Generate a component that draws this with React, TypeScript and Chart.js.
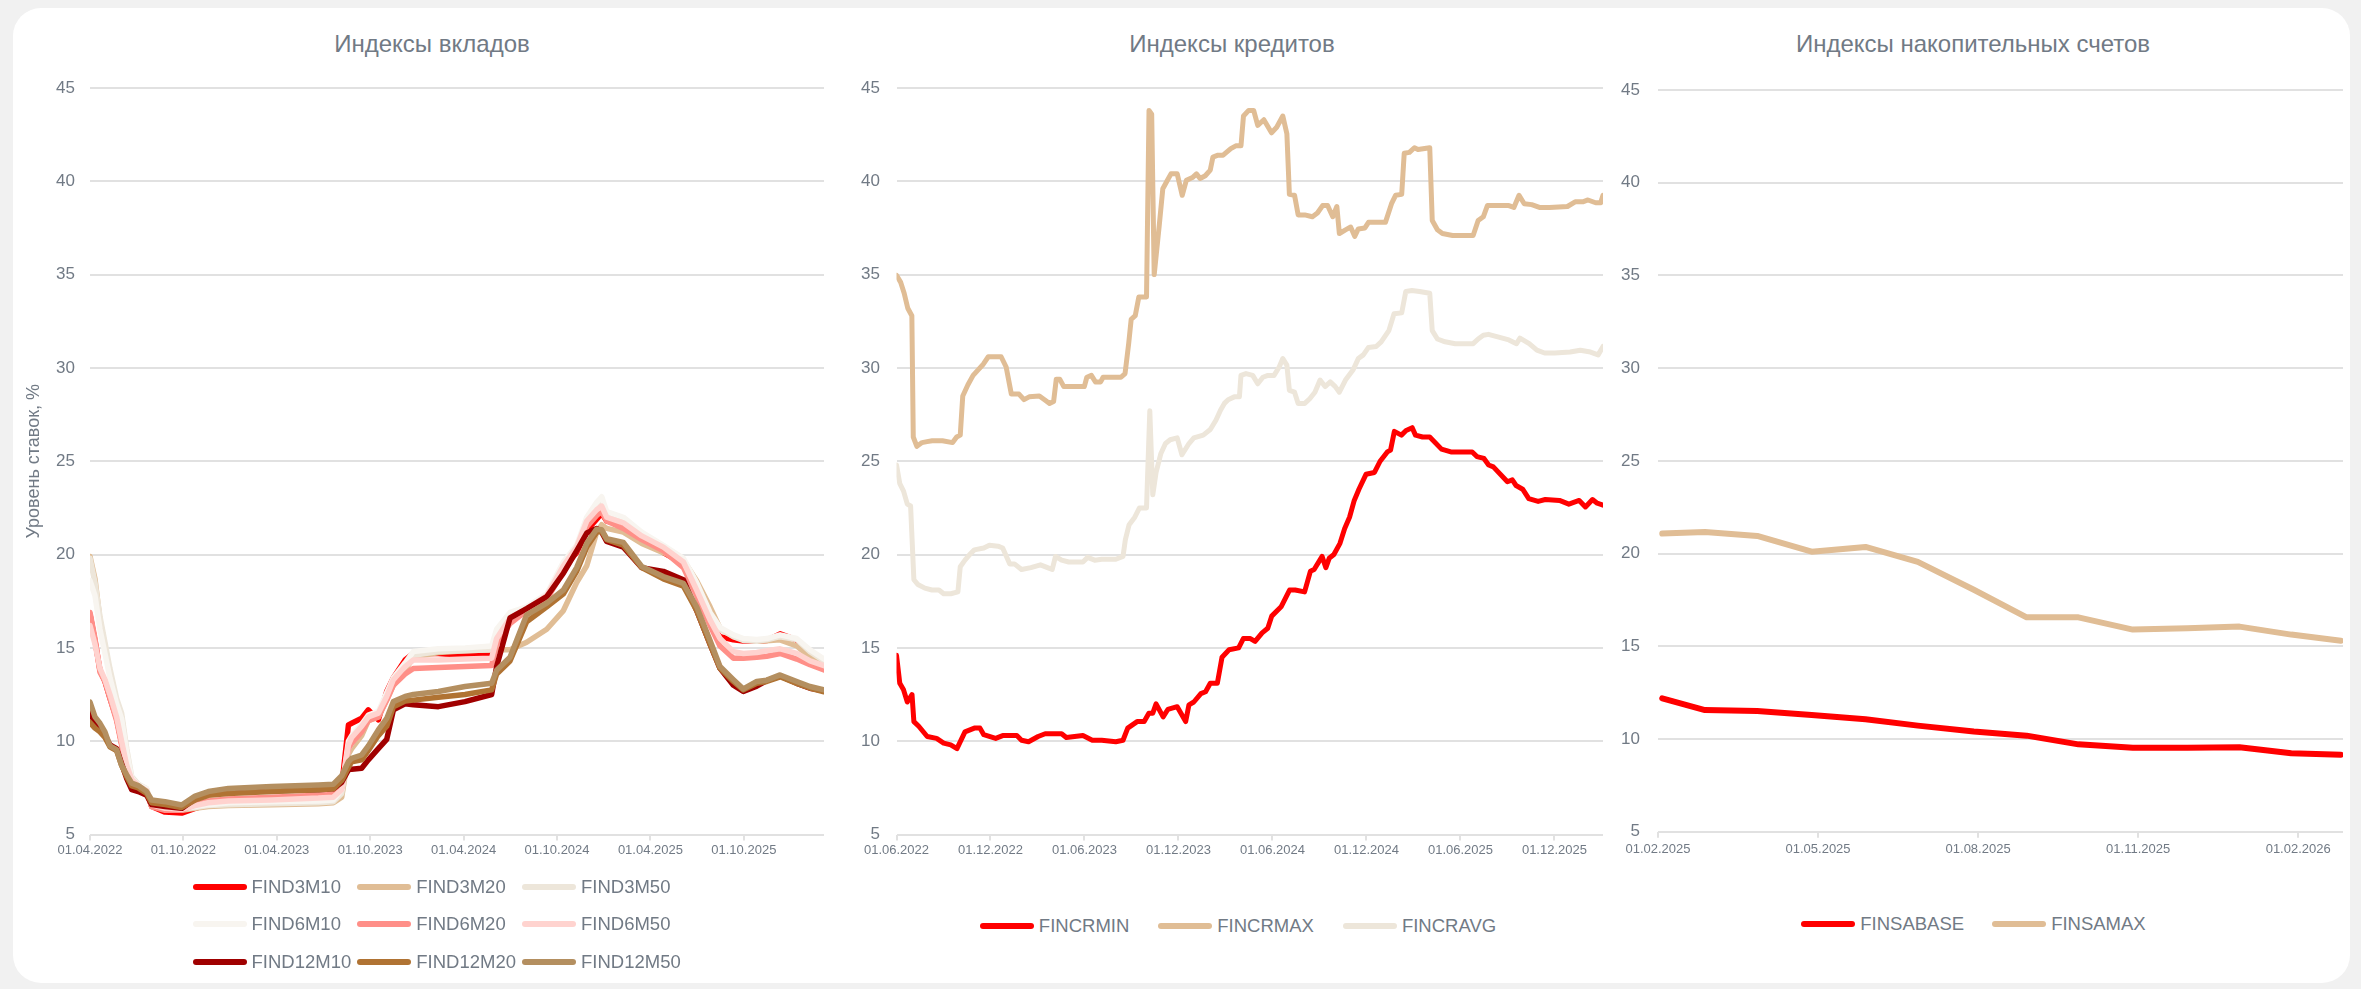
import React, { useEffect, useRef } from "react";
import { Chart, registerables } from "chart.js";

Chart.register(...registerables);

const FONT = "'Liberation Sans', Arial, Helvetica, sans-serif";
const TEXT = "#717a85";
const GRID = "#e1e1e1";

// ---------- Индексы вкладов (x = months since 01.04.2022) ----------
const DEP_TICKS = [0, 6, 12, 18, 24, 30, 36, 42];
const DEP_TICK_LABELS = ["01.04.2022", "01.10.2022", "01.04.2023", "01.10.2023", "01.04.2024", "01.10.2024", "01.04.2025", "01.10.2025"];
const DEP_MAX = 47.15;
const DEP_T = [0, 0.32, 0.64, 0.96, 1.28, 1.71, 2.03, 2.36, 2.68, 3.1, 3.64, 3.96, 4.82, 5.89, 6.75, 7.6, 8.89, 11.67, 14.67, 15.63, 16.17, 16.6, 16.81, 17.45, 17.88, 18.52, 19.06, 19.49, 20.24, 20.77, 22.38, 24.09, 25.8, 26.12, 26.98, 28.05, 29.34, 30.41, 31.26, 31.91, 32.55, 32.87, 33.19, 34.26, 35.44, 36.83, 38.12, 38.97, 39.83, 40.47, 41.33, 41.97, 42.83, 43.47, 44.33, 45.4, 46.25, 47.15];
const FIND3M10 = [16.8, 15.4, 13.8, 13.2, 12.3, 11.2, 9.9, 8.6, 7.85, 7.55, 7.3, 6.5, 6.2, 6.15, 6.4, 6.6, 6.75, 6.85, 6.95, 7.0, 7.6, 10.87, 10.96, 11.23, 11.68, 11.14, 12.66, 13.4, 14.35, 14.7, 14.7, 14.6, 14.6, 15.6, 16.8, 17.1, 17.8, 19.3, 20.1, 21.3, 21.9, 22.2, 21.8, 21.6, 21.0, 20.1, 19.5, 18.0, 16.3, 15.6, 15.43, 15.37, 15.35, 15.4, 15.75, 15.43, 14.6, 14.2];
const FIND3M20 = [19.9, 18.7, 16.5, 15.1, 13.6, 12.0, 11.3, 9.3, 7.95, 7.6, 7.4, 6.5, 6.35, 6.3, 6.4, 6.5, 6.55, 6.6, 6.65, 6.7, 7.0, 9.3, 9.6, 10.3, 11.1, 11.3, 12.2, 13.0, 13.8, 14.5, 14.75, 14.85, 14.9, 14.9, 14.9, 15.3, 16.0, 17.0, 18.5, 19.4, 21.2, 21.6, 21.4, 21.2, 20.6, 20.1, 19.7, 18.6, 17.2, 16.05, 15.6, 15.45, 15.35, 15.38, 15.43, 15.1, 14.5, 14.1];
const FIND3M50 = [19.8, 18.5, 16.7, 15.3, 13.9, 12.3, 11.5, 9.6, 8.1, 7.7, 7.45, 6.5, 6.4, 6.35, 6.45, 6.55, 6.6, 6.65, 6.7, 6.75, 7.2, 9.6, 9.9, 10.6, 11.2, 11.4, 12.4, 13.2, 14.0, 14.6, 14.8, 14.85, 14.9, 15.8, 16.5, 16.9, 17.6, 19.2, 20.3, 21.7, 22.5, 23.0, 22.1, 21.8, 21.0, 20.3, 19.6, 18.3, 16.8, 16.0, 15.6, 15.4, 15.35, 15.43, 15.6, 15.45, 14.8, 14.3];
const FIND6M10 = [18.6, 17.8, 16.0, 14.7, 13.4, 12.0, 11.2, 9.4, 8.0, 7.65, 7.45, 6.6, 6.5, 6.4, 6.5, 6.6, 6.7, 6.75, 6.8, 6.85, 7.4, 10.0, 10.3, 10.9, 11.4, 11.6, 12.6, 13.4, 14.2, 14.8, 14.95, 15.0, 15.1, 16.0, 16.9, 17.2, 17.9, 19.6, 20.5, 22.0, 22.8, 23.1, 22.3, 22.0, 21.2, 20.5, 19.8, 18.5, 16.9, 16.1, 15.7, 15.5, 15.45, 15.5, 15.7, 15.5, 14.9, 14.4];
const FIND6M20 = [16.9, 15.5, 13.7, 13.2, 12.3, 11.1, 9.8, 8.5, 7.9, 7.6, 7.3, 6.5, 6.3, 6.3, 6.6, 6.8, 6.9, 7.0, 7.1, 7.15, 7.5, 9.6, 9.9, 10.5, 11.1, 11.3, 12.2, 13.0, 13.6, 13.9, 13.95, 14.0, 14.05, 15.2, 16.3, 17.0, 17.6, 19.1, 20.2, 21.5, 22.1, 22.3, 21.8, 21.4, 20.8, 20.2, 19.3, 17.8, 16.2, 15.1, 14.45, 14.45, 14.5, 14.55, 14.7, 14.4, 14.1, 13.82];
const FIND6M50 = [16.2, 15.2, 13.9, 13.3, 12.5, 11.3, 10.0, 8.7, 7.95, 7.6, 7.35, 6.6, 6.4, 6.35, 6.55, 6.7, 6.8, 6.85, 6.95, 7.0, 7.4, 9.8, 10.2, 10.8, 11.3, 11.5, 12.4, 13.3, 14.0, 14.35, 14.35, 14.4, 14.45, 15.5, 16.6, 17.1, 17.8, 19.4, 20.4, 21.8, 22.4, 22.6, 22.0, 21.7, 21.0, 20.4, 19.6, 18.1, 16.5, 15.5, 14.8, 14.7, 14.75, 14.85, 14.95, 14.7, 14.3, 14.05];
const FIND12M10 = [11.5, 11.0, 10.8, 10.3, 9.8, 9.6, 8.8, 8.0, 7.4, 7.3, 7.1, 6.6, 6.5, 6.4, 6.9, 7.2, 7.3, 7.35, 7.4, 7.45, 7.8, 8.46, 8.5, 8.55, 9.0, 9.6, 10.1, 11.68, 12.0, 11.95, 11.85, 12.12, 12.5, 14.0, 16.6, 17.1, 17.75, 19.0, 20.2, 21.15, 21.4, 21.2, 20.7, 20.4, 19.3, 19.1, 18.65, 17.0, 15.2, 13.9, 13.0, 12.66, 12.95, 13.25, 13.5, 13.1, 12.84, 12.7];
const FIND12M20 = [11.0, 10.7, 10.5, 10.2, 9.7, 9.5, 8.7, 8.1, 7.6, 7.5, 7.2, 6.7, 6.6, 6.45, 6.85, 7.1, 7.2, 7.3, 7.4, 7.45, 7.9, 8.6, 8.9, 9.0, 9.5, 10.3, 10.8, 11.85, 12.15, 12.2, 12.35, 12.5, 12.75, 13.6, 14.3, 16.4, 17.2, 17.9, 19.1, 20.4, 21.2, 21.25, 20.8, 20.5, 19.3, 18.7, 18.3, 17.0, 15.2, 13.9, 13.2, 12.75, 13.1, 13.2, 13.45, 13.1, 12.85, 12.65];
const FIND12M50 = [12.1, 11.3, 10.96, 10.5, 9.75, 9.55, 8.7, 8.2, 7.75, 7.62, 7.3, 6.85, 6.76, 6.58, 7.06, 7.3, 7.47, 7.57, 7.65, 7.69, 8.15, 8.9, 9.08, 9.26, 9.75, 10.6, 11.22, 12.12, 12.4, 12.5, 12.66, 12.93, 13.1, 13.8, 14.5, 16.77, 17.4, 18.1, 19.3, 20.6, 21.36, 21.33, 20.85, 20.65, 19.36, 18.82, 18.46, 17.2, 15.4, 14.0, 13.3, 12.8, 13.2, 13.27, 13.55, 13.2, 12.93, 12.75];
const DEP_NAMES = ["FIND3M10", "FIND3M20", "FIND3M50", "FIND6M10", "FIND6M20", "FIND6M50", "FIND12M10", "FIND12M20", "FIND12M50"];
const DEP_COLORS = ["#ff0000", "#e0bd95", "#ede6da", "#f8f5f0", "#ff8f88", "#ffd3cf", "#a00000", "#b07333", "#b48f60"];
const DEP_SERIES = [FIND3M10, FIND3M20, FIND3M50, FIND6M10, FIND6M20, FIND6M50, FIND12M10, FIND12M20, FIND12M50];

// ---------- Индексы кредитов (x = months since 01.06.2022) ----------
const CR_TICKS = [0, 6, 12, 18, 24, 30, 36, 42];
const CR_TICK_LABELS = ["01.06.2022", "01.12.2022", "01.06.2023", "01.12.2023", "01.06.2024", "01.12.2024", "01.06.2025", "01.12.2025"];
const CR_MAX = 45.1;
const FINCRMIN_T = [0, 0.21, 0.45, 0.69, 0.99, 1.11, 1.42, 1.96, 2.56, 3.01, 3.46, 3.86, 4.37, 4.97, 5.33, 5.57, 6.33, 6.78, 7.68, 7.98, 8.43, 9.04, 9.49, 10.54, 10.84, 11.9, 12.5, 13.1, 14.0, 14.46, 14.76, 15.36, 15.81, 16.11, 16.36, 16.57, 17.02, 17.32, 17.92, 18.46, 18.67, 18.98, 19.43, 19.73, 20.03, 20.48, 20.78, 21.23, 21.84, 22.14, 22.59, 22.89, 23.34, 23.7, 23.95, 24.55, 25.09, 25.45, 26.05, 26.42, 26.66, 27.17, 27.41, 27.62, 27.92, 28.31, 28.61, 28.92, 29.22, 29.52, 29.97, 30.51, 30.87, 31.33, 31.54, 31.78, 32.23, 32.53, 32.92, 33.13, 33.58, 34.04, 34.79, 35.39, 36.75, 37.05, 37.5, 37.8, 38.1, 39.0, 39.31, 39.55, 39.97, 40.36, 40.96, 41.42, 42.32, 42.92, 43.58, 43.98, 44.43, 44.73, 45.1];
const FINCRMIN = [14.6, 13.1, 12.75, 12.1, 12.5, 11.05, 10.8, 10.25, 10.15, 9.9, 9.8, 9.6, 10.5, 10.7, 10.7, 10.35, 10.15, 10.3, 10.3, 10.05, 9.97, 10.25, 10.4, 10.4, 10.2, 10.3, 10.05, 10.05, 9.97, 10.05, 10.7, 11.05, 11.05, 11.5, 11.5, 12.0, 11.3, 11.7, 11.85, 11.05, 11.95, 12.1, 12.55, 12.65, 13.1, 13.1, 14.5, 14.9, 15.0, 15.5, 15.5, 15.35, 15.8, 16.05, 16.7, 17.2, 18.1, 18.1, 18.0, 19.1, 19.2, 19.9, 19.3, 19.8, 20.0, 20.6, 21.4, 22.0, 22.9, 23.5, 24.3, 24.4, 25.0, 25.5, 25.6, 26.6, 26.4, 26.65, 26.8, 26.4, 26.3, 26.3, 25.65, 25.5, 25.5, 25.25, 25.15, 24.8, 24.7, 23.9, 24.0, 23.7, 23.5, 23.0, 22.85, 22.95, 22.9, 22.7, 22.9, 22.55, 22.95, 22.75, 22.65];
const FINCRMAX_T = [0, 0.26, 0.49, 0.72, 0.98, 1.07, 1.3, 1.63, 1.95, 2.28, 2.93, 3.58, 3.84, 4.07, 4.23, 4.56, 4.89, 5.21, 5.54, 5.86, 6.19, 6.68, 7.0, 7.33, 7.82, 8.14, 8.47, 9.12, 9.45, 9.77, 10.03, 10.2, 10.42, 10.68, 11.4, 11.99, 12.15, 12.44, 12.7, 13.03, 13.19, 14.33, 14.59, 14.82, 14.98, 15.24, 15.47, 15.96, 16.12, 16.29, 16.45, 16.78, 17.0, 17.26, 17.52, 17.92, 18.24, 18.5, 18.89, 19.15, 19.38, 19.71, 20.03, 20.2, 20.52, 20.85, 21.34, 21.66, 21.99, 22.15, 22.48, 22.8, 23.06, 23.45, 23.94, 24.27, 24.66, 24.92, 25.08, 25.41, 25.64, 26.06, 26.55, 26.87, 27.2, 27.52, 27.85, 28.11, 28.27, 28.66, 28.99, 29.25, 29.48, 29.9, 30.13, 31.21, 31.6, 31.86, 32.25, 32.41, 32.74, 33.06, 33.29, 34.04, 34.2, 34.53, 34.85, 35.5, 36.81, 37.13, 37.46, 37.72, 38.44, 39.09, 39.41, 39.74, 40.07, 40.55, 41.04, 41.69, 42.83, 43.32, 43.81, 44.14, 44.63, 44.95, 45.1];
const FINCRMAX = [34.96, 34.6, 34.0, 33.2, 32.8, 26.3, 25.8, 26.0, 26.05, 26.1, 26.1, 26.0, 26.3, 26.4, 28.5, 29.1, 29.6, 29.9, 30.2, 30.6, 30.6, 30.6, 30.05, 28.6, 28.6, 28.3, 28.45, 28.5, 28.3, 28.1, 28.2, 29.4, 29.4, 29.0, 29.0, 29.0, 29.5, 29.6, 29.25, 29.25, 29.5, 29.5, 29.7, 31.3, 32.6, 32.8, 33.8, 33.8, 43.8, 43.6, 35.0, 37.7, 39.6, 40.0, 40.4, 40.4, 39.25, 40.05, 40.2, 40.4, 40.15, 40.3, 40.6, 41.3, 41.4, 41.4, 41.75, 41.9, 41.9, 43.5, 43.8, 43.8, 43.0, 43.3, 42.6, 42.9, 43.5, 42.55, 39.3, 39.25, 38.2, 38.2, 38.1, 38.3, 38.7, 38.7, 38.1, 38.65, 37.2, 37.4, 37.55, 37.05, 37.45, 37.5, 37.8, 37.8, 38.8, 39.25, 39.3, 41.5, 41.55, 41.8, 41.7, 41.8, 37.9, 37.4, 37.2, 37.1, 37.1, 37.9, 38.1, 38.7, 38.7, 38.7, 38.6, 39.25, 38.8, 38.75, 38.6, 38.6, 38.65, 38.9, 38.9, 39.0, 38.85, 38.85, 39.25];
const FINCRAVG_T = [0, 0.21, 0.45, 0.69, 0.9, 1.11, 1.36, 1.81, 2.26, 2.71, 3.01, 3.46, 3.92, 4.07, 4.37, 4.67, 4.97, 5.57, 5.93, 6.48, 6.78, 7.23, 7.53, 7.98, 8.58, 9.19, 9.64, 9.94, 10.15, 10.54, 10.99, 11.9, 12.2, 12.65, 13.1, 14.0, 14.46, 14.61, 14.85, 15.21, 15.51, 15.96, 16.17, 16.36, 16.57, 16.87, 17.17, 17.47, 17.92, 18.22, 18.67, 18.98, 19.58, 20.03, 20.39, 20.69, 20.93, 21.17, 21.56, 21.89, 21.99, 22.31, 22.74, 23.06, 23.39, 23.71, 24.1, 24.43, 24.66, 24.92, 25.08, 25.41, 25.64, 26.06, 26.38, 26.71, 27.04, 27.36, 27.69, 28.01, 28.27, 28.66, 29.15, 29.48, 29.8, 30.13, 30.62, 30.94, 31.43, 31.76, 32.25, 32.51, 32.9, 33.39, 34.04, 34.2, 34.53, 35.02, 35.67, 36.81, 37.13, 37.46, 37.79, 38.44, 39.09, 39.58, 39.8, 40.39, 40.88, 41.37, 42.02, 43.0, 43.65, 44.3, 44.79, 45.1];
const FINCRAVG = [24.8, 23.8, 23.4, 22.7, 22.6, 18.65, 18.4, 18.2, 18.1, 18.1, 17.9, 17.9, 18.0, 19.35, 19.7, 20.0, 20.25, 20.35, 20.5, 20.45, 20.35, 19.5, 19.5, 19.2, 19.3, 19.45, 19.3, 19.2, 19.9, 19.7, 19.6, 19.6, 19.85, 19.7, 19.75, 19.75, 19.9, 20.8, 21.6, 22.0, 22.5, 22.5, 27.7, 23.2, 24.4, 25.4, 25.95, 26.15, 26.25, 25.35, 25.95, 26.25, 26.4, 26.7, 27.2, 27.75, 28.1, 28.3, 28.45, 28.45, 29.6, 29.7, 29.6, 29.15, 29.5, 29.6, 29.6, 30.05, 30.5, 30.15, 28.8, 28.7, 28.1, 28.1, 28.35, 28.7, 29.35, 29.0, 29.25, 29.0, 28.7, 29.35, 29.9, 30.5, 30.7, 31.1, 31.15, 31.4, 32.0, 32.9, 32.95, 34.1, 34.15, 34.1, 34.0, 32.0, 31.55, 31.4, 31.3, 31.3, 31.55, 31.75, 31.8, 31.65, 31.5, 31.3, 31.6, 31.3, 30.95, 30.8, 30.8, 30.85, 30.95, 30.85, 30.7, 31.15];
const CR_NAMES = ["FINCRMIN", "FINCRMAX", "FINCRAVG"];
const CR_COLORS = ["#ff0000", "#e0bd95", "#ede6da"];

// ---------- Индексы накопительных счетов (x = months since 01.02.2025) ----------
const SA_TICKS = [0, 3, 6, 9, 12];
const SA_TICK_LABELS = ["01.02.2025", "01.05.2025", "01.08.2025", "01.11.2025", "01.02.2026"];
const SA_MAX = 12.84;
const SA_T = [0.08, 0.88, 1.86, 2.88, 3.89, 4.87, 5.92, 6.91, 7.88, 8.9, 9.92, 10.9, 11.87, 12.8];
const FINSABASE = [12.19, 11.56, 11.51, 11.29, 11.06, 10.72, 10.4, 10.18, 9.71, 9.53, 9.53, 9.55, 9.23, 9.15];
const FINSAMAX = [21.08, 21.16, 20.95, 20.1, 20.36, 19.55, 18.05, 16.56, 16.56, 15.9, 15.97, 16.06, 15.63, 15.3];
const SA_NAMES = ["FINSABASE", "FINSAMAX"];
const SA_COLORS = ["#ff0000", "#e0bd95"];

type Series = { label: string; t: number[]; v: number[]; color: string; order: number };
type Opts = {
  series: Series[];
  ticks: number[];
  tickLabels: string[];
  xMax: number;
  lineWidth: number;
  padding: { top: number; right: number; bottom: number; left: number };
  yWidth: number;
  yPad: number;
  xPad: number;
  yTitle?: string;
  yTitlePad?: number;
};

function makeConfig(o: Opts): any {
  return {
    type: "line",
    data: {
      datasets: o.series.map((s) => ({
        label: s.label,
        data: s.t.map((x, i) => ({ x, y: s.v[i] })),
        borderColor: s.color,
        backgroundColor: s.color,
        borderWidth: o.lineWidth,
        pointRadius: 0,
        pointHoverRadius: 0,
        tension: 0,
        fill: false,
        borderJoinStyle: "round",
        borderCapStyle: "round",
        order: s.order,
      })),
    },
    options: {
      animation: false,
      responsive: false,
      maintainAspectRatio: false,
      events: [],
      layout: { padding: o.padding },
      plugins: { legend: { display: false }, title: { display: false }, tooltip: { enabled: false } },
      scales: {
        x: {
          type: "linear",
          min: 0,
          max: o.xMax,
          afterBuildTicks: (s: any) => {
            s.ticks = o.ticks.map((v) => ({ value: v }));
          },
          afterFit: (s: any) => {
            s.height = 30;
          },
          ticks: {
            autoSkip: false,
            maxRotation: 0,
            minRotation: 0,
            padding: o.xPad,
            color: TEXT,
            font: { family: FONT, size: 13 },
            callback: (_v: any, i: number) => o.tickLabels[i],
          },
          grid: { drawOnChartArea: false, drawTicks: true, tickLength: 6, color: GRID, lineWidth: 2 },
          border: { display: false },
        },
        y: {
          min: 5,
          max: 45,
          afterFit: (s: any) => {
            s.width = o.yWidth;
          },
          ticks: { stepSize: 5, padding: o.yPad, color: TEXT, font: { family: FONT, size: 17 } },
          grid: { color: GRID, lineWidth: 2, drawTicks: false },
          border: { display: false },
          title: {
            display: !!o.yTitle,
            text: o.yTitle || "",
            color: TEXT,
            font: { family: FONT, size: 18 },
            padding: { top: o.yTitlePad || 0, bottom: 0 },
          },
        },
      },
    },
  };
}

function ChartCanvas(props: { left: number; top: number; width: number; height: number; opts: Opts }) {
  const ref = useRef<HTMLCanvasElement | null>(null);
  useEffect(() => {
    if (!ref.current) return;
    const chart = new Chart(ref.current, makeConfig(props.opts));
    return () => chart.destroy();
  }, []);
  return (
    <canvas
      ref={ref}
      width={props.width}
      height={props.height}
      style={{ position: "absolute", left: props.left, top: props.top, width: props.width, height: props.height }}
    />
  );
}

function LegendItem({ name, color }: { name: string; color: string }) {
  return (
    <div style={{ display: "flex", alignItems: "center", whiteSpace: "nowrap" }}>
      <span style={{ display: "inline-block", width: 54, height: 6, borderRadius: 3, background: color, marginRight: 5, flex: "none" }} />
      <span style={{ fontSize: 18.5, lineHeight: "22px", color: TEXT, fontFamily: FONT }}>{name}</span>
    </div>
  );
}

function Title({ text, cx }: { text: string; cx: number }) {
  return (
    <div
      style={{
        position: "absolute",
        left: cx - 400,
        width: 800,
        top: 30,
        textAlign: "center",
        fontSize: 24,
        lineHeight: "28px",
        color: TEXT,
        fontFamily: FONT,
      }}
    >
      {text}
    </div>
  );
}

export default function App() {
  const depSeries: Series[] = DEP_NAMES.map((n, i) => ({ label: n, t: DEP_T, v: DEP_SERIES[i], color: DEP_COLORS[i], order: 9 - i }));
  const crSeries: Series[] = [
    { label: CR_NAMES[0], t: FINCRMIN_T, v: FINCRMIN, color: CR_COLORS[0], order: 1 },
    { label: CR_NAMES[1], t: FINCRMAX_T, v: FINCRMAX, color: CR_COLORS[1], order: 2 },
    { label: CR_NAMES[2], t: FINCRAVG_T, v: FINCRAVG, color: CR_COLORS[2], order: 3 },
  ];
  const saSeries: Series[] = [
    { label: SA_NAMES[0], t: SA_T, v: FINSABASE, color: SA_COLORS[0], order: 1 },
    { label: SA_NAMES[1], t: SA_T, v: FINSAMAX, color: SA_COLORS[1], order: 2 },
  ];

  return (
    <div style={{ position: "fixed", left: 0, top: 0, width: 2361, height: 989, background: "#f1f1f1", overflow: "hidden", fontFamily: FONT }}>
      <div style={{ position: "absolute", left: 13, top: 8, width: 2337, height: 975, background: "#ffffff", borderRadius: 28 }} />

      <Title text="Индексы вкладов" cx={432} />
      <Title text="Индексы кредитов" cx={1232} />
      <Title text="Индексы накопительных счетов" cx={1973} />

      <ChartCanvas
        left={13}
        top={8}
        width={830}
        height={862}
        opts={{
          series: depSeries,
          ticks: DEP_TICKS,
          tickLabels: DEP_TICK_LABELS,
          xMax: DEP_MAX,
          lineWidth: 5.5,
          padding: { top: 80, right: 19, bottom: 5.5, left: 0 },
          yWidth: 77,
          yPad: 15,
          xPad: 2.4,
          yTitle: "Уровень ставок, %",
          yTitlePad: 10.7,
        }}
      />
      <ChartCanvas
        left={843}
        top={8}
        width={780}
        height={862}
        opts={{
          series: crSeries,
          ticks: CR_TICKS,
          tickLabels: CR_TICK_LABELS,
          xMax: CR_MAX,
          lineWidth: 5,
          padding: { top: 80, right: 20, bottom: 5.5, left: 0 },
          yWidth: 53.5,
          yPad: 16.5,
          xPad: 2.4,
        }}
      />
      <ChartCanvas
        left={1610}
        top={8}
        width={740}
        height={862}
        opts={{
          series: saSeries,
          ticks: SA_TICKS,
          tickLabels: SA_TICK_LABELS,
          xMax: SA_MAX,
          lineWidth: 6,
          padding: { top: 82, right: 7, bottom: 8.3, left: 0 },
          yWidth: 48,
          yPad: 18,
          xPad: 3.5,
        }}
      />

      <div
        style={{
          position: "absolute",
          left: 192.5,
          top: 868.6,
          display: "grid",
          gridTemplateColumns: "repeat(3, 164.75px)",
          gridAutoRows: "37.25px",
          alignItems: "center",
        }}
      >
        {DEP_NAMES.map((n, i) => (
          <LegendItem key={n} name={n} color={DEP_COLORS[i]} />
        ))}
      </div>

      <div
        style={{
          position: "absolute",
          left: 1238 - 400,
          width: 800,
          top: 925.7 - 11,
          height: 22,
          display: "flex",
          justifyContent: "center",
          alignItems: "center",
          gap: 29,
        }}
      >
        {CR_NAMES.map((n, i) => (
          <LegendItem key={n} name={n} color={CR_COLORS[i]} />
        ))}
      </div>

      <div
        style={{
          position: "absolute",
          left: 1973.5 - 400,
          width: 800,
          top: 924 - 11,
          height: 22,
          display: "flex",
          justifyContent: "center",
          alignItems: "center",
          gap: 28,
        }}
      >
        {SA_NAMES.map((n, i) => (
          <LegendItem key={n} name={n} color={SA_COLORS[i]} />
        ))}
      </div>
    </div>
  );
}
